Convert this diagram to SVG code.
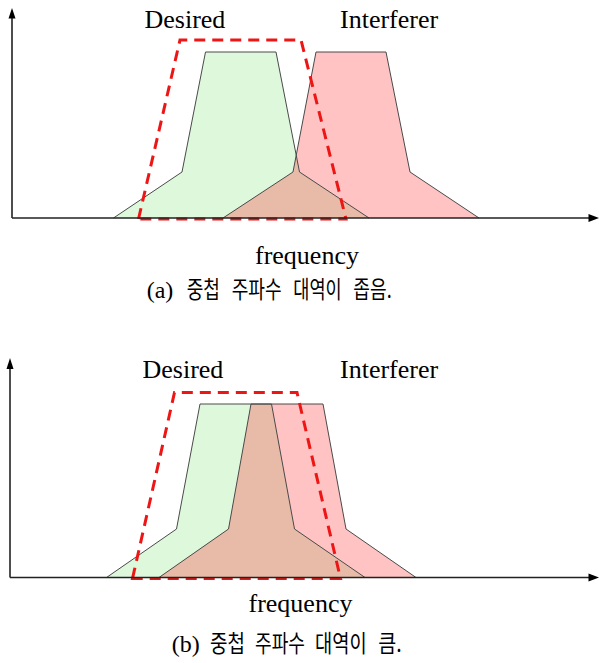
<svg xmlns="http://www.w3.org/2000/svg" width="599" height="663" viewBox="0 0 599 663">
<defs>
<style>
.axis{stroke:#222;stroke-width:1.6;fill:none}
.head{fill:#000}
.gf{fill:#def8dc;stroke:none}
.rf{fill:#ffc3c3;stroke:none}
.of{fill:#e8bba8;stroke:none}
.ol{fill:none;stroke:#4a4a4a;stroke-width:1}
.band{fill:none;stroke:#ee1515;stroke-width:3;stroke-dasharray:11 7}
.lbl{font-family:"Liberation Serif","Times New Roman",serif;font-size:26px;fill:#000}
.cap{font-family:"Liberation Serif","Times New Roman",serif;font-size:24px;fill:#000}
.kr{font-family:"Noto Sans CJK KR","Noto Sans",sans-serif;font-size:23.5px;fill:#000}
</style>
</defs>
<rect width="599" height="663" fill="#fff"/>

<!-- Panel (a) -->
<g id="panel-a">
  <g id="a-desired">
    <polygon class="gf" points="113.5,218 182,172 205.5,52 276,52 299.5,172 369,218"/>
  </g>
  <g id="a-interferer">
    <polygon class="rf" points="223,218 293,172 316,52 386,52 410,172 479,218"/>
  </g>
  <g id="a-overlap">
    <polygon class="of" points="223,218 293,172 296.2,155 299.5,172 369,218"/>
  </g>
  <polyline class="ol" points="113.5,218 182,172 205.5,52 276,52 299.5,172 369,218"/>
  <polyline class="ol" points="223,218 293,172 316,52 386,52 410,172 479,218"/>
  <g id="a-band">
    <polygon class="band" points="138.5,219 180,40 301,40 346,219"/>
  </g>
  <g id="a-axes">
    <line class="axis" x1="12" y1="218" x2="590" y2="218"/>
    <line class="axis" x1="12" y1="218" x2="12" y2="17"/>
    <polygon class="head" points="12,8 8.5,18.5 15.5,18.5"/>
    <polygon class="head" points="599,218 588.5,214 588.5,222"/>
  </g>
  <text class="lbl" x="144.5" y="28">Desired</text>
  <text class="lbl" x="340" y="28">Interferer</text>
  <text class="lbl" x="255" y="264">frequency</text>
  <text class="cap" x="146.7" y="298">(a)</text>
  <text class="kr" x="186.7" y="298" textLength="33.3" lengthAdjust="spacingAndGlyphs">중첩</text>
  <text class="kr" x="231.7" y="298" textLength="50" lengthAdjust="spacingAndGlyphs">주파수</text>
  <text class="kr" x="293.3" y="298" textLength="48.4" lengthAdjust="spacingAndGlyphs">대역이</text>
  <text class="kr" x="353.3" y="298" textLength="38.4" lengthAdjust="spacingAndGlyphs">좁음.</text>
</g>

<!-- Panel (b) -->
<g id="panel-b">
  <g id="b-desired">
    <polygon class="gf" points="106.5,577.5 176.5,529 200,404 271.5,404 294.5,529 365,577.5"/>
  </g>
  <g id="b-interferer">
    <polygon class="rf" points="159,577.5 228.5,529 251,404 323,404 346,529 416,577.5"/>
  </g>
  <g id="b-overlap">
    <polygon class="of" points="159,577.5 228.5,529 251,404 271.5,404 294.5,529 365,577.5"/>
  </g>
  <polyline class="ol" points="106.5,577.5 176.5,529 200,404 271.5,404 294.5,529 365,577.5"/>
  <polyline class="ol" points="159,577.5 228.5,529 251,404 323,404 346,529 416,577.5"/>
  <g id="b-band">
    <polygon class="band" points="132.5,578.5 174.5,392.5 297,392.5 340.5,578.5"/>
  </g>
  <g id="b-axes">
    <line class="axis" x1="10" y1="577.5" x2="590" y2="577.5"/>
    <line class="axis" x1="10" y1="577.5" x2="10" y2="367"/>
    <polygon class="head" points="10,358 6.5,369 13.5,369"/>
    <polygon class="head" points="599,577.5 588.5,573.5 588.5,581.5"/>
  </g>
  <text class="lbl" x="142.5" y="378">Desired</text>
  <text class="lbl" x="340" y="378">Interferer</text>
  <text class="lbl" x="248.5" y="611.5">frequency</text>
  <text class="cap" x="171.7" y="652">(b)</text>
  <text class="kr" x="210" y="652" textLength="35" lengthAdjust="spacingAndGlyphs">중첩</text>
  <text class="kr" x="255" y="652" textLength="50" lengthAdjust="spacingAndGlyphs">주파수</text>
  <text class="kr" x="315" y="652" textLength="51.7" lengthAdjust="spacingAndGlyphs">대역이</text>
  <text class="kr" x="378.3" y="652" textLength="23.4" lengthAdjust="spacingAndGlyphs">큼.</text>
</g>
</svg>
